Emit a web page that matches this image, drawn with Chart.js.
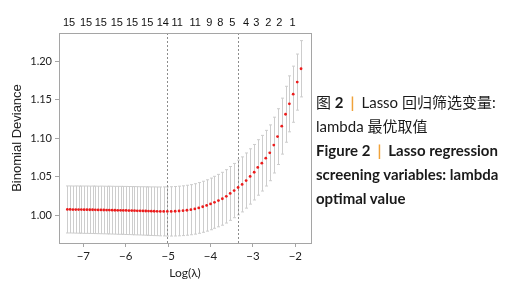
<!DOCTYPE html>
<html>
<head>
<meta charset="utf-8">
<script src="https://cdn.jsdelivr.net/npm/chart.js@4"></script>
<style>
  body { margin: 0; background: #fff; }
  #wrap { position: relative; width: 512px; height: 289px; }
  #cap {
    position: absolute; left: 316px; top: 90px;
    font-family: Lato, "Noto Sans CJK SC", sans-serif;
    font-size: 15px; line-height: 24px; color: #1a1a1a; white-space: nowrap;
  }
  #cap .b { font-weight: bold; }
  #cap .sep { color: #f0a23a; margin: 0 7px; font-weight: bold; }
</style>
</head>
<body>
<div id="wrap">
  <canvas id="grafico" width="512" height="289"></canvas>
  <div id="cap">
    <div>图 <span class="b">2</span><span class="sep">|</span>Lasso 回归筛选变量:</div>
    <div>lambda 最优取值</div>
    <div class="b">Figure 2<span class="sep">|</span>Lasso regression</div>
    <div class="b">screening variables: lambda</div>
    <div class="b">optimal value</div>
  </div>
</div>
<script>
// log(lambda) de cada punto
const logLambda = [
  -7.378, -7.312, -7.246, -7.180, -7.114, -7.048, -6.982, -6.916, -6.850, -6.784,
  -6.718, -6.652, -6.586, -6.520, -6.454, -6.388, -6.322, -6.256, -6.190, -6.124,
  -6.058, -5.992, -5.926, -5.860, -5.794, -5.728, -5.662, -5.596, -5.530, -5.464,
  -5.398, -5.330, -5.260, -5.185, -5.105, -5.020, -4.928, -4.835, -4.742, -4.649,
  -4.557, -4.464, -4.371, -4.278, -4.185, -4.092, -4.000, -3.907, -3.814, -3.721,
  -3.628, -3.536, -3.443, -3.350, -3.255, -3.160, -3.066, -2.970, -2.886, -2.790,
  -2.697, -2.603, -2.508, -2.420, -2.320, -2.230, -2.140, -2.050, -1.955, -1.865
];
// binomial deviance media
const deviance = [
  1.0075, 1.0075, 1.0074, 1.0074, 1.0073, 1.0073, 1.0072, 1.0072, 1.0071, 1.0071,
  1.0070, 1.0069, 1.0069, 1.0068, 1.0067, 1.0067, 1.0066, 1.0065, 1.0064, 1.0064,
  1.0063, 1.0062, 1.0061, 1.0060, 1.0059, 1.0058, 1.0057, 1.0056, 1.0055, 1.0054,
  1.0053, 1.0052, 1.0051, 1.0050, 1.0050, 1.0049, 1.0050, 1.0052, 1.0055, 1.0059,
  1.0065, 1.0072, 1.0082, 1.0095, 1.0110, 1.0127, 1.0147, 1.0168, 1.0190, 1.0214,
  1.0245, 1.0283, 1.0320, 1.0360, 1.0400, 1.0450, 1.0503, 1.0558, 1.0620, 1.0675,
  1.0740, 1.0810, 1.0910, 1.1020, 1.1156, 1.1310, 1.1445, 1.1570, 1.1727, 1.1900
];
// error estandar
const devianceSE = [
  0.0305, 0.0305, 0.0305, 0.0306, 0.0306, 0.0306, 0.0307, 0.0307, 0.0307, 0.0308,
  0.0308, 0.0308, 0.0309, 0.0309, 0.0309, 0.0310, 0.0310, 0.0310, 0.0311, 0.0311,
  0.0311, 0.0312, 0.0312, 0.0312, 0.0313, 0.0313, 0.0313, 0.0314, 0.0314, 0.0315,
  0.0315, 0.0316, 0.0316, 0.0317, 0.0318, 0.0319, 0.0320, 0.0321, 0.0322, 0.0323,
  0.0324, 0.0325, 0.0327, 0.0329, 0.0331, 0.0333, 0.0335, 0.0337, 0.0340, 0.0343,
  0.0346, 0.0349, 0.0352, 0.0355, 0.0357, 0.0358, 0.0359, 0.0360, 0.0360, 0.0361,
  0.0361, 0.0362, 0.0362, 0.0362, 0.0363, 0.0363, 0.0363, 0.0364, 0.0364, 0.0365
];

const xTicks = [-7, -6, -5, -4, -3, -2];
const yTicks = [1.00, 1.05, 1.10, 1.15, 1.20];
// eje superior: numero de variables
const topTickPos = [-7.338, -6.936, -6.589, -6.211, -5.850, -5.496, -5.125, -4.787, -4.362,
  -4.031, -3.771, -3.488, -3.164, -2.921, -2.638, -2.378, -2.064];
const topTickLabels = ['15', '15', '15', '15', '15', '15', '14', '11', '11',
  '9', '8', '5', '4', '3', '2', '2', '1'];
const lambdaMinLog = -5.02;
const lambda1seLog = -3.35;

const xMin = -7.575, xMax = -1.63;

const barrasError = {
  id: 'barrasError',
  beforeDatasetsDraw(chart) {
    const { ctx, chartArea, scales: { x, y } } = chart;
    ctx.save();
    ctx.lineWidth = 1;
    ctx.strokeStyle = '#cdcdcd';
    logLambda.forEach((v, i) => {
      const px = Math.round(x.getPixelForValue(v)) + 0.5;
      const hi = y.getPixelForValue(deviance[i] + devianceSE[i]);
      const lo = y.getPixelForValue(deviance[i] - devianceSE[i]);
      ctx.beginPath();
      ctx.moveTo(px, hi); ctx.lineTo(px, lo);
      ctx.moveTo(px - 1.5, hi); ctx.lineTo(px + 1.5, hi);
      ctx.moveTo(px - 1.5, lo); ctx.lineTo(px + 1.5, lo);
      ctx.stroke();
    });
    ctx.strokeStyle = '#8c8c8c';
    ctx.setLineDash([2, 2]);
    [lambdaMinLog, lambda1seLog].forEach(v => {
      const px = Math.round(x.getPixelForValue(v)) + 0.5;
      ctx.beginPath();
      ctx.moveTo(px, chartArea.top);
      ctx.lineTo(px, chartArea.bottom);
      ctx.stroke();
    });
    ctx.restore();
  },
  afterDraw(chart) {
    const { ctx, chartArea } = chart;
    ctx.save();
    ctx.strokeStyle = '#a5a5a5';
    ctx.lineWidth = 1;
    ctx.strokeRect(Math.round(chartArea.left) + 0.5, Math.round(chartArea.top) + 0.5,
      Math.round(chartArea.right - chartArea.left), Math.round(chartArea.bottom - chartArea.top));
    ctx.restore();
  }
};

const ctx = document.getElementById('grafico').getContext('2d');
new Chart(ctx, {
  type: 'scatter',
  data: {
    datasets: [{
      data: logLambda.map((v, i) => ({ x: v, y: deviance[i] })),
      pointRadius: 1.4,
      pointBackgroundColor: '#ec1c1c',
      pointBorderWidth: 0,
      showLine: false
    }]
  },
  options: {
    responsive: false,
    animation: false,
    layout: { padding: { left: 0, right: 201, top: 0, bottom: 0 } },
    plugins: { legend: { display: false }, tooltip: { enabled: false } },
    scales: {
      x: {
        type: 'linear', position: 'bottom', min: xMin, max: xMax,
        afterBuildTicks: s => { s.ticks = xTicks.map(v => ({ value: v })); },
        afterFit: s => { s.height = 46; },
        ticks: {
          callback: v => String(v).replace('-', '\u2212'),
          font: { family: 'Lato', size: 11.5 }, color: '#222', padding: 2, maxRotation: 0
        },
        grid: { drawOnChartArea: false, tickLength: 4, color: '#a5a5a5' },
        border: { display: false },
        title: {
          display: true, text: 'Log(λ)', color: '#222',
          font: { family: 'Lato', size: 12 }, padding: { top: 0, bottom: 9 }
        }
      },
      x2: {
        type: 'linear', position: 'top', min: xMin, max: xMax,
        afterBuildTicks: s => { s.ticks = topTickPos.map(v => ({ value: v })); },
        afterFit: s => { s.height = 33; },
        ticks: {
          callback: (v, i) => topTickLabels[i],
          autoSkip: false, maxRotation: 0,
          font: { family: 'Liberation Sans', size: 11 }, color: '#111', padding: 3
        },
        grid: { display: false, drawTicks: false },
        border: { display: false }
      },
      y: {
        type: 'linear', position: 'left', min: 0.964, max: 1.2364,
        afterBuildTicks: s => { s.ticks = yTicks.map(v => ({ value: v })); },
        afterFit: s => { s.width = 59; },
        ticks: {
          callback: v => v.toFixed(2),
          font: { family: 'Lato', size: 11 }, color: '#222', padding: 3
        },
        grid: { drawOnChartArea: false, tickLength: 4, color: '#a5a5a5' },
        border: { display: false },
        title: {
          display: true, text: 'Binomial Deviance', color: '#222',
          font: { family: 'Liberation Sans', size: 13 }, padding: { top: 10, bottom: 0 }
        }
      }
    }
  },
  plugins: [barrasError]
});
</script>
</body>
</html>
